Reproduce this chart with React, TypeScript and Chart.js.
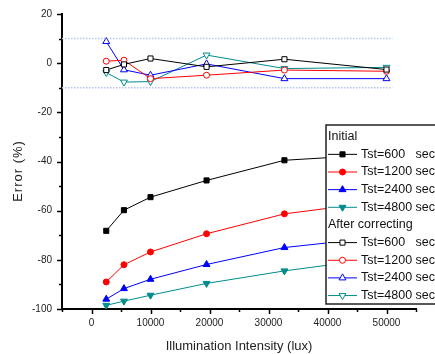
import React, { useEffect, useRef } from 'react';
import { Chart, registerables } from 'chart.js';
import { drawPoint } from 'chart.js/helpers';

Chart.register(...registerables);

// ---- data ----
const xValues = [2500, 5500, 10000, 19500, 32700, 50000];

const initial600 = [-68.2, -59.8, -54.5, -47.7, -39.5, -37];
const initial1200 = [-89, -82, -76.8, -69.4, -61.3, -56];
const initial2400 = [-96, -91.7, -87.9, -81.9, -75, -70.5];
const initial4800 = [-98.5, -96.8, -94.4, -89.6, -84.5, -79];

const corrected600 = [-2.8, -0.5, 1.9, -1.5, 1.6, -2.6];
const corrected1200 = [0.8, 1.2, -6.3, -4.9, -2.8, -3.3];
const corrected2400 = [8.8, -2.7, -4.9, -0.3, -6.3, -6.3];
const corrected4800 = [-3.8, -7.7, -7.5, 3.3, -2.2, -1.7];

const seriesNames = ['Tst=600   sec', 'Tst=1200 sec', 'Tst=2400 sec', 'Tst=4800 sec'];
const groupNames = ['Initial', 'After correcting'];
const limitValues = [10, -10];
const limitXRange = [-5000, 51000];

const xTitle = 'Illumination Intensity (lux)';
const yTitle = 'Error (%)';

const colors = ['#000000', '#ff0000', '#0000ff', '#008c8c'];
const styles = [
  { pointStyle: 'rect', rotation: 0, radius: 3.6 },
  { pointStyle: 'circle', rotation: 0, radius: 3 },
  { pointStyle: 'triangle', rotation: 0, radius: 4 },
  { pointStyle: 'triangle', rotation: 180, radius: 4 },
];

const FONT = "'Liberation Sans', Arial, sans-serif";

function makeDataset(label: string, values: number[], idx: number, hollow: boolean) {
  const st = styles[idx];
  return {
    label,
    data: xValues.map((x, i) => ({ x, y: values[i] })),
    borderColor: colors[idx],
    backgroundColor: colors[idx],
    borderWidth: 1,
    pointStyle: st.pointStyle,
    rotation: st.rotation,
    pointRadius: st.radius,
    pointBorderWidth: 1,
    pointBorderColor: colors[idx],
    pointBackgroundColor: hollow ? '#ffffff' : colors[idx],
    tension: 0,
    hollow,
    seriesIndex: idx,
  } as any;
}

const initialSets = [initial600, initial1200, initial2400, initial4800];
const correctedSets = [corrected600, corrected1200, corrected2400, corrected4800];

const overlayPlugin = {
  id: 'overlay',
  afterDraw(chart: any) {
    const ctx: CanvasRenderingContext2D = chart.ctx;
    const xs = chart.scales.x;
    const ys = chart.scales.y;
    const area = chart.chartArea;
    ctx.save();
    // ticks
    ctx.strokeStyle = '#000';
    ctx.lineWidth = 1.5;
    for (let v = -100; v <= 20; v += 10) {
      const py = Math.round(ys.getPixelForValue(v)) + 0.5;
      const len = v % 20 === 0 ? 5 : 3;
      ctx.beginPath();
      ctx.moveTo(area.left - len, py);
      ctx.lineTo(area.left, py);
      ctx.stroke();
    }
    for (let v = -5000; v <= 55000; v += 5000) {
      const px = Math.round(xs.getPixelForValue(v)) + 0.5;
      const len = v % 10000 === 0 ? 5 : 3;
      ctx.beginPath();
      ctx.moveTo(px, area.bottom);
      ctx.lineTo(px, area.bottom + len);
      ctx.stroke();
    }
    // axis titles
    ctx.fillStyle = '#222';
    ctx.font = `13px ${FONT}`;
    ctx.textAlign = 'center';
    ctx.textBaseline = 'middle';
    ctx.fillText(xTitle, (area.left + area.right) / 2, 346);
    ctx.save();
    ctx.translate(18, 171);
    ctx.rotate(-Math.PI / 2);
    (ctx as any).letterSpacing = '1px';
    ctx.fillText(yTitle, 0, 0);
    ctx.restore();

    // legend
    const lx = 326, ly = 125, lw = 140, lh = 179;
    ctx.fillStyle = '#fff';
    ctx.fillRect(lx, ly, lw, lh);
    ctx.strokeStyle = '#222';
    ctx.lineWidth = 1.5;
    ctx.strokeRect(lx, ly, lw, lh);
    const pitch = 17.65;
    let rowY = 136.7;
    ctx.textAlign = 'left';
    ctx.font = `12.5px ${FONT}`;
    const datasets = chart.data.datasets.filter((d: any) => d.seriesIndex !== undefined);
    for (let g = 0; g < 2; g++) {
      ctx.fillStyle = '#111';
      ctx.fillText(groupNames[g], 328, rowY);
      rowY += pitch;
      for (let s = 0; s < 4; s++) {
        const ds = datasets[g * 4 + s];
        ctx.strokeStyle = ds.borderColor;
        ctx.lineWidth = 1;
        ctx.beginPath();
        ctx.moveTo(328, rowY);
        ctx.lineTo(357, rowY);
        ctx.stroke();
        ctx.fillStyle = ds.pointBackgroundColor;
        ctx.strokeStyle = ds.pointBorderColor;
        drawPoint(ctx, { pointStyle: ds.pointStyle, rotation: ds.rotation, radius: ds.pointRadius, borderWidth: 1 } as any, 342.5, rowY);
        ctx.fillStyle = '#111';
        ctx.fillText(ds.label, 361, rowY);
        rowY += pitch;
      }
    }
    ctx.restore();
  },
};

export default function App() {
  const ref = useRef<HTMLCanvasElement>(null);
  useEffect(() => {
    if (!ref.current) return;
    const datasets: any[] = [];
    limitValues.forEach((v) => {
      datasets.push({
        label: 'limit ' + v,
        data: limitXRange.map((x) => ({ x, y: v })),
        borderColor: '#b3c6ea',
        borderWidth: 1.5,
        borderDash: [1.5, 1.5],
        pointRadius: 0,
      });
    });
    initialSets.forEach((vals, i) => datasets.push(makeDataset(seriesNames[i], vals, i, false)));
    correctedSets.forEach((vals, i) => datasets.push(makeDataset(seriesNames[i], vals, i, true)));

    const chart = new Chart(ref.current, {
      type: 'line',
      data: { datasets },
      options: {
        animation: false,
        responsive: false,
        devicePixelRatio: 1,
        layout: { padding: { top: 14, right: 19, left: 0, bottom: 0 } },
        plugins: { legend: { display: false }, tooltip: { enabled: false } },
        scales: {
          x: {
            type: 'linear',
            min: -5000,
            max: 55000,
            afterFit: (s: any) => { s.height = 45; },
            border: { display: true, color: '#000', width: 2 },
            grid: { drawOnChartArea: false, drawTicks: true, tickLength: 5, tickColor: 'rgba(0,0,0,0)' },
            ticks: {
              stepSize: 5000,
              autoSkip: false,
              maxRotation: 0,
              padding: 3,
              color: '#222',
              font: { family: FONT, size: 10 },
              callback: (v: any) => (v % 10000 === 0 && v >= 0 && v <= 50000 ? String(v) : ''),
            },
          },
          y: {
            type: 'linear',
            min: -100,
            max: 20,
            afterFit: (s: any) => { s.width = 62; },
            border: { display: true, color: '#000', width: 2 },
            grid: { drawOnChartArea: false, drawTicks: true, tickLength: 5, tickColor: 'rgba(0,0,0,0)' },
            ticks: {
              stepSize: 10,
              autoSkip: false,
              padding: 5,
              color: '#222',
              font: { family: FONT, size: 10 },
              callback: (v: any) => (v % 20 === 0 ? String(v) : ''),
            },
          },
        },
      },
      plugins: [overlayPlugin],
    });
    return () => chart.destroy();
  }, []);

  return (
    <div style={{ position: 'fixed', left: 0, top: 0, width: 435, height: 354, background: '#fff', overflow: 'hidden' }}>
      <canvas ref={ref} width={435} height={354} style={{ width: 435, height: 354, display: 'block' }} />
    </div>
  );
}
